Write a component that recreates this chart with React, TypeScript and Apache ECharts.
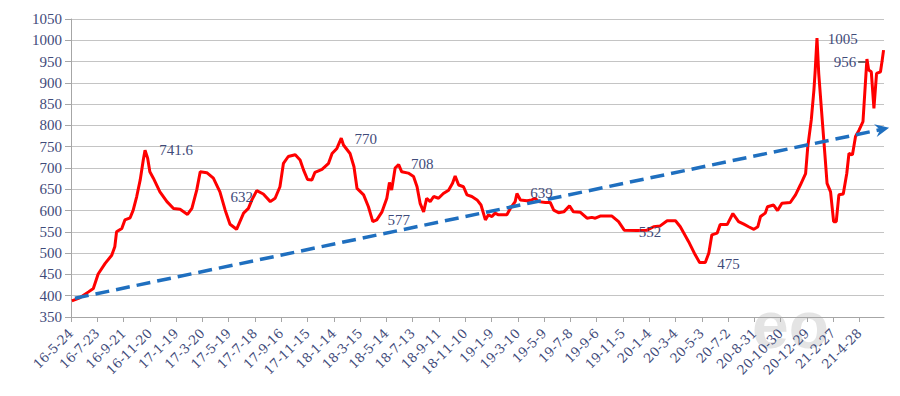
import React, { useEffect, useRef } from "react";
import * as echarts from "echarts";

// Day offsets from 2016-05-24 and the price at that day
const dayOffsets = [
  2, 20, 40, 51, 62, 78, 93, 100, 104, 116, 123, 135, 142, 150, 158, 165, 169, 175, 180, 188,
  203, 219, 234, 249, 266, 276, 287, 295, 310, 325, 340, 352, 363, 378, 394, 405, 413, 424, 439, 455,
  466, 477, 485, 496, 512, 523, 531, 540, 550, 557, 573, 588, 596, 607, 617, 622, 637, 646, 653, 668,
  679, 689, 698, 710, 721, 727, 732, 740, 748, 755, 770, 782, 790, 797, 805, 812, 820, 828, 839, 850,
  862, 871, 877, 885, 896, 904, 915, 927, 936, 946, 953, 961, 968, 976, 984, 995, 1003, 1014, 1018, 1026,
  1041, 1052, 1060, 1067, 1083, 1094, 1102, 1113, 1125, 1138, 1147, 1163, 1178, 1189, 1197, 1208, 1235, 1250, 1263, 1292,
  1315, 1330, 1345, 1361, 1380, 1391, 1410, 1425, 1435, 1448, 1456, 1463, 1475, 1482, 1498, 1511, 1524, 1536, 1547, 1559,
  1568, 1574, 1585, 1590, 1604, 1613, 1623, 1642, 1654, 1665, 1677, 1682, 1690, 1696, 1699, 1703, 1707, 1715, 1722, 1726,
  1734, 1741, 1747, 1753, 1763, 1771, 1776, 1784, 1791, 1799, 1808, 1814, 1817, 1821, 1827, 1833, 1839, 1848, 1852, 1855,
];
const prices = [
  388, 395, 409, 417, 451, 476, 495, 515, 550, 558, 578, 583, 601, 633, 672, 719, 741.6, 723, 691, 676,
  644, 621, 605, 603, 591, 605, 648, 691, 689, 676, 644, 601, 568, 556, 594, 605, 625, 647, 639, 621,
  629, 656, 711, 727, 731, 719, 695, 673, 672, 690, 697, 711, 734, 746, 770, 754, 734, 703, 652, 637,
  609, 574, 578, 597, 629, 666, 648, 700, 708, 691, 688, 680, 656, 617, 597, 629, 621, 633, 629, 640,
  648, 664, 681, 660, 656, 637, 633, 625, 613, 578, 590, 586, 594, 590, 590, 590, 605, 621, 640, 625,
  623, 625, 629, 621, 619, 619, 601, 595, 597, 611, 597, 596, 582, 584, 582, 587, 587, 574, 554, 553,
  554, 562, 564, 576, 576, 562, 527, 496, 478, 478, 500, 543, 547, 567, 567, 593, 574, 568, 562, 556,
  562, 586, 594, 609, 613, 600, 617, 619, 637, 660, 687, 750, 813, 883, 930, 1005, 922, 813, 719, 664,
  644, 574, 574, 637, 639, 687, 734, 731, 774, 789, 809, 907, 956, 930, 926, 840, 922, 926, 954, 977,
];

// x-axis tick labels, one every 60 days
const tickLabels = [
  "16-5-24", "16-7-23", "16-9-21", "16-11-20", "17-1-19", "17-3-20", "17-5-19", "17-7-18",
  "17-9-16", "17-11-15", "18-1-14", "18-3-15", "18-5-14", "18-7-13", "18-9-11", "18-11-10",
  "19-1-9", "19-3-10", "19-5-9", "19-7-8", "19-9-6", "19-11-5", "20-1-4", "20-3-4",
  "20-5-3", "20-7-2", "20-8-31", "20-10-30", "20-12-29", "21-2-27", "21-4-28",
];
const tickStep = 60;

// annotation labels: text, day position of label centre, value height
const noteTexts = ["741.6", "632", "770", "577", "708", "639", "552", "475", "1005", "956"];
const noteDays = [240, 390, 673, 748, 802, 1074, 1322, 1501, 1762, 1767];
const noteValues = [741.6, 632, 769, 578, 709, 641, 550, 475, 1003, 948];

// trend arrow endpoints [day, value]
const trendStart = [9, 394];
const trendEnd = [1852, 791];
// leader line for "956"
const leaderStart = [1797, 949];
const leaderEnd = [1814, 949];

const axisTextColor = "#3f4b7a";
const gridColor = "#c4c4c4";
const serifFont = "'Liberation Serif', serif";
const tickFont = "'DejaVu Serif', serif";

export default function App() {
  const ref = useRef<HTMLDivElement>(null);

  useEffect(() => {
    if (!ref.current) return;
    const chart = echarts.init(ref.current, undefined, { renderer: "svg" });
    const lineData = dayOffsets.map((d, i) => [d, prices[i]]);
    const tickValues = tickLabels.map((_, i) => i * tickStep);

    chart.setOption({
      animation: false,
      backgroundColor: "#ffffff",
      grid: { left: 71, right: 16, top: 19, bottom: 79, containLabel: false },
      xAxis: {
        type: "value",
        min: 0,
        max: 1856,
        interval: tickStep,
        splitLine: { show: false },
        axisLine: { show: true, lineStyle: { color: "#a6a6a6", width: 1 } },
        axisTick: { show: true, length: 5, lineStyle: { color: "#a6a6a6" }, customValues: tickValues },
        axisLabel: {
          rotate: 45,
          margin: 14,
          color: axisTextColor,
          fontSize: 13,
          fontFamily: tickFont,
          customValues: tickValues,
          formatter: (v: number) => {
            const idx = Math.round(v / tickStep);
            return Math.abs(v - idx * tickStep) < 0.5 && tickLabels[idx] ? tickLabels[idx] : "";
          },
        },
      },
      yAxis: {
        type: "value",
        min: 350,
        max: 1050,
        interval: 50,
        axisLine: { show: true, lineStyle: { color: "#a6a6a6", width: 1 } },
        axisTick: { show: true, length: 6, lineStyle: { color: "#a6a6a6" } },
        splitLine: { show: true, lineStyle: { color: gridColor, width: 1 } },
        axisLabel: {
          color: axisTextColor,
          fontSize: 15,
          fontFamily: serifFont,
          margin: 9,
          formatter: (v: number) => String(v),
        },
      },
      graphic: [
        {
          type: "text",
          left: 752,
          top: 292,
          z: -10,
          silent: true,
          style: { text: "eo", fontSize: 66, fontWeight: "bold", fontFamily: "'Liberation Sans', sans-serif", fill: "#e4e4e4" },
        },
      ],
      series: [
        {
          type: "line",
          data: lineData,
          showSymbol: false,
          symbol: "none",
          lineStyle: { color: "#ff0000", width: 3 },
          z: 2,
          markPoint: {
            silent: true,
            symbol: "circle",
            symbolSize: 1,
            itemStyle: { color: "rgba(0,0,0,0)" },
            label: { show: true, position: "inside", color: axisTextColor, fontSize: 15, fontFamily: serifFont },
            data: noteTexts.map((t, i) => ({
              coord: [noteDays[i], noteValues[i]],
              label: { formatter: t },
            })),
          },
          markLine: {
            silent: true,
            animation: false,
            label: { show: false },
            data: [
              [
                {
                  coord: trendStart,
                  symbol: "none",
                  lineStyle: { color: "#1f6fbf", width: 3.5, type: [14, 7] },
                },
                {
                  coord: trendEnd,
                  symbol: "path://M5,0 L10,12 L5,8 L0,12 Z",
                  symbolSize: [13, 14],
                },
              ],
              [
                {
                  coord: leaderStart,
                  symbol: "none",
                  lineStyle: { color: "#404040", width: 1.5, type: "solid" },
                },
                { coord: leaderEnd, symbol: "none" },
              ],
            ],
          },
        },
      ],
    });
    return () => chart.dispose();
  }, []);

  return (
    <div
      ref={ref}
      style={{ position: "fixed", left: 0, top: 0, width: 900, height: 396, background: "#fff" }}
    />
  );
}
